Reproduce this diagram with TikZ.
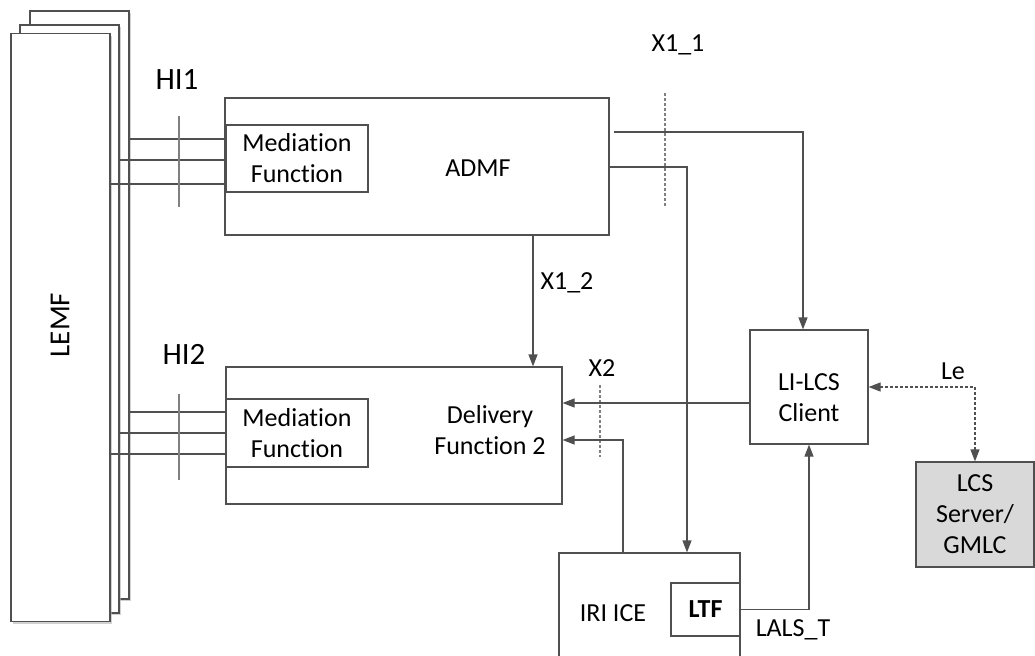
\documentclass[tikz,border=0pt]{standalone}
\usepackage{fontspec}
\setmainfont{Carlito}[Ligatures={NoCommon}]
\usetikzlibrary{arrows.meta, shadows}

\definecolor{edgegray}{HTML}{505050}
\definecolor{tickgray}{HTML}{808080}
\definecolor{servergray}{HTML}{D9D9D9}

\tikzset{
  box/.style={draw=edgegray, line width=0.6pt, fill=white, inner sep=0pt},
  stack/.style={box, minimum width=49.5pt, minimum height=294pt,
    drop shadow={shadow xshift=1.2pt, shadow yshift=-1.2pt, fill=black!30, opacity=0.6}},
  txt/.style={font=\fontsize{13}{15.5}\selectfont, text=black, align=center},
  wire/.style={draw=edgegray, line width=0.6pt},
  link/.style={wire, -{Triangle[length=6pt, width=4.5pt]}},
  iface/.style={draw=tickgray, line width=0.6pt},
  cut/.style={iface, dash pattern=on 1.5pt off 1pt},
}

\begin{document}
\begin{tikzpicture}[x=0.5pt, y=-0.5pt]
\useasboundingbox (0,0) rectangle (1035,655);
\clip (0,0) rectangle (1035,655);

% LEMF stack
\node[stack] (lemfa) at (79.5,305) {};
\node[stack] (lemfb) at (69.5,319) {};
\node[stack] (lemfc) at (60.5,327.5) {};
\node[txt, rotate=90, font=\fontsize{14.5}{17}\selectfont] (lemft) at (60,325) {LEMF};

% ADMF
\node[box, minimum width=192pt, minimum height=68.5pt] (admf) at (417,166.5) {};
\node[box, txt, minimum width=71pt, minimum height=33.5pt] (meda) at (297,158.5) {Mediation\\Function};
\node[txt] (admft) at (478,168) {ADMF};

% Delivery Function 2
\node[box, minimum width=168pt, minimum height=68.5pt] (dlv) at (394,435.5) {};
\node[box, txt, minimum width=71pt, minimum height=34pt] (medb) at (297,433) {Mediation\\Function};
\node[txt] (dlvt) at (490,430) {Delivery\\Function 2};

% LI-LCS client, LCS server, IRI ICE
\node[box, minimum width=59pt, minimum height=57pt] (lilcs) at (809,387) {};
\node[txt] (lilcst) at (809,398) {LI-LCS\\Client};
\node[box, txt, fill=servergray, minimum width=59pt, minimum height=52.5pt] (lcs) at (975,514.5) {LCS\\Server/\\GMLC};
\node[box, minimum width=90.5pt, minimum height=63.5pt] (iri) at (649.5,616.5) {};
\node[txt] (irit) at (613,613) {IRI ICE};
\node[box, txt, minimum width=34.5pt, minimum height=26.5pt, font=\fontsize{13}{15.5}\selectfont\bfseries] (ltf) at (705.5,609.5) {LTF};

% HI1 / HI2 lines
\draw[wire] (lemfa.east |- 0,139) -- (meda.west |- 0,139);
\draw[wire] (lemfb.east |- 0,160) -- (meda.west |- 0,160);
\draw[wire] (lemfc.east |- 0,184) -- (meda.west |- 0,184);
\draw[wire] (lemfa.east |- 0,412) -- (medb.west |- 0,412);
\draw[wire] (lemfb.east |- 0,433) -- (medb.west |- 0,433);
\draw[wire] (lemfc.east |- 0,454) -- (medb.west |- 0,454);
\draw[iface] (179,116) -- (179,207);
\draw[iface] (179,394) -- (179,480);
\draw[cut] (665,93) -- (665,207);
\draw[cut] (600,385) -- (600,457);

% interface labels
\node[txt, font=\fontsize{15.5}{18}\selectfont] (hione) at (177,80) {HI1};
\node[txt, font=\fontsize{15.5}{18}\selectfont] (hitwo) at (184,354) {HI2};
\node[txt] (xoneone) at (678,45) {X1\_1};
\node[txt] (xonetwo) at (567,283) {X1\_2};
\node[txt] (xtwo) at (602,368) {X2};
\node[txt] (le) at (953,371) {Le};
\node[txt] (lals) at (793,630) {LALS\_T};

% connectors
\draw[link] ([xshift=2pt]admf.east |- 0,132) -| ([xshift=-3pt]lilcs.north);
\draw[link] (admf.east |- 0,167) -| ([xshift=18.75pt]iri.north);
\draw[link] (admf.south -| 533,0) -- (dlv.north -| 533,0);
\draw[link] (lilcs.west |- 0,403) -- (dlv.east |- 0,403);
\draw[link] ([xshift=-13.25pt]iri.north) |- (dlv.east |- 0,440);
\draw[link] (ltf.east) -| (lilcs.south);
\draw[wire, dash pattern=on 1.5pt off 1pt, {Triangle[length=6pt, width=4.5pt]}-{Triangle[length=6pt, width=4.5pt]}] (lilcs.east) -| (lcs.north);

\end{tikzpicture}
\end{document}
